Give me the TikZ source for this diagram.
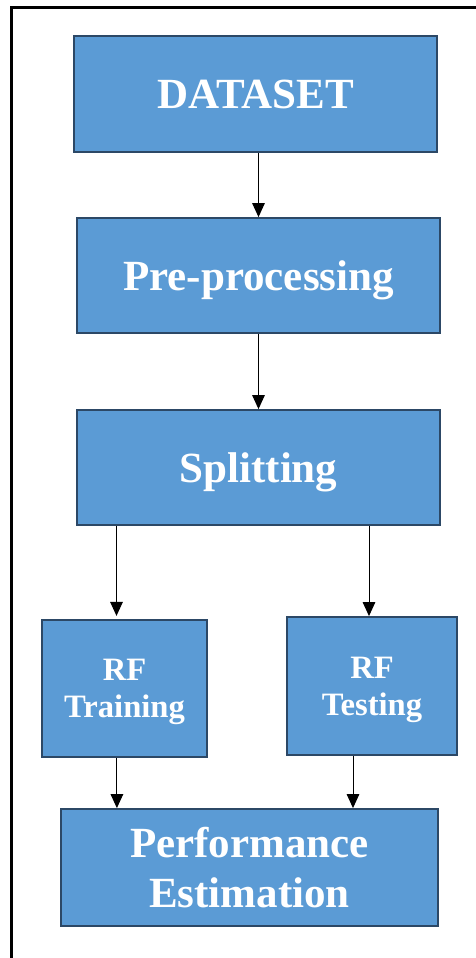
\documentclass[tikz,border=0pt]{standalone}
\usepackage{fontspec}
\setmainfont{Liberation Serif}
\usepackage{tikz}
\usetikzlibrary{shapes.geometric, arrows.meta, positioning, fit}
\definecolor{boxfill}{RGB}{91,155,213}
\definecolor{boxline}{RGB}{44,72,102}
\tikzstyle{arrow}     = [line width=0.7pt,-{Triangle[length=10pt,width=9pt]}]
\tikzstyle{block}     = [rectangle, draw=boxline, line width=1.3pt, fill=boxfill, text=white, inner sep=0pt,
                         text depth=0pt, font=\bfseries\fontsize{30.6}{35.5}\selectfont]
\tikzstyle{smallblock} = [block, font=\bfseries\fontsize{23.2}{26.5}\selectfont]
\tikzset{every node/.style={align=center}}

\begin{document}
\begin{tikzpicture}
    \useasboundingbox (0,0) rectangle (11.9,23.95);
    % outer frame
    \draw [line width=1.6pt] (0.2875,0) -- (0.2875,23.7625) -- (11.9,23.7625);

    \node (data)     at (6.3875, 21.6)    [block, minimum width=9.075cm, minimum height=2.9cm]   {DATASET};
    \node (pre)      at (6.4625, 17.0625) [block, minimum width=9.075cm, minimum height=2.875cm] {Pre-processing};
    \node (split)    at (6.4625, 12.2625) [block, minimum width=9.075cm, minimum height=2.875cm] {Splitting};
    \node (training) at (3.1125, 6.7375)  [smallblock, minimum width=4.125cm, minimum height=3.425cm] {RF\\Training};
    \node (testing)  at (9.3, 6.8)        [smallblock, minimum width=4.25cm, minimum height=3.45cm]   {RF\\Testing};
    \node (perf)     at (6.2375, 2.2625)  [block, minimum width=9.425cm, minimum height=2.925cm] {Performance\\Estimation};

    \draw [arrow] (data.south -| pre.north) -- (pre.north);
    \draw [arrow] (pre) -- (split);
    \draw [arrow] ([xshift=-0.2cm]training.north |- split.south) -- ([xshift=-0.2cm, yshift=0.08cm]training.north);
    \draw [arrow] ([xshift=-0.075cm]testing.north |- split.south) -- ([xshift=-0.075cm]testing.north);
    \draw [arrow] ([xshift=-0.19cm]training.south) -- ([xshift=-0.19cm]training.south |- perf.north);
    \draw [arrow] ([xshift=-0.475cm]testing.south) -- ([xshift=-0.475cm]testing.south |- perf.north);
\end{tikzpicture}
\end{document}
